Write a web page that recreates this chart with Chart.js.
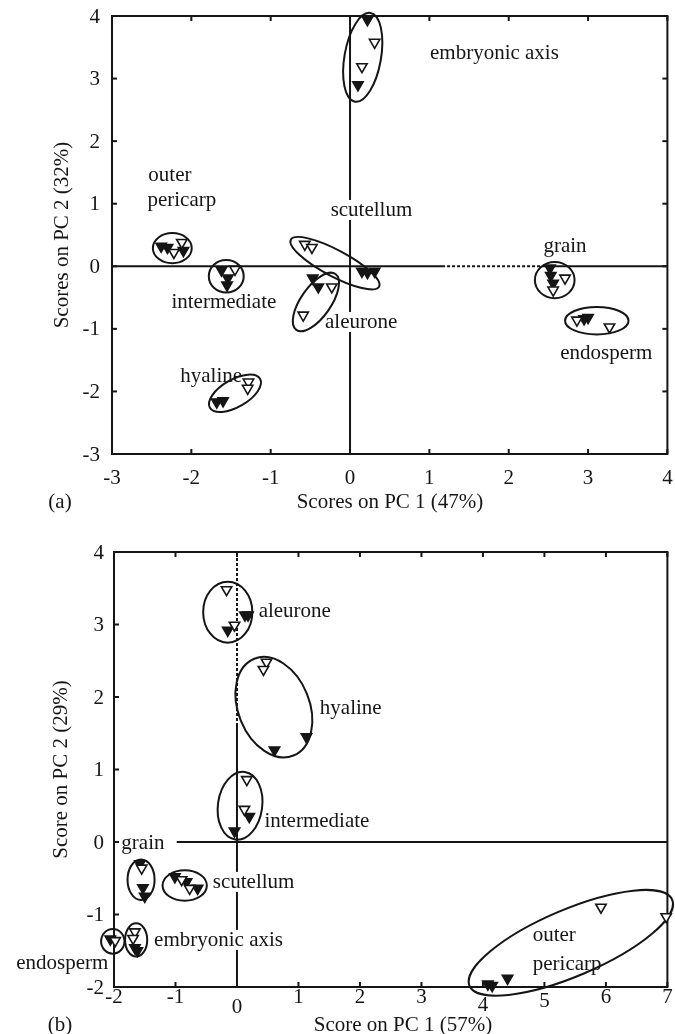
<!DOCTYPE html>
<html><head><meta charset="utf-8">
<script src="https://cdn.jsdelivr.net/npm/chart.js@4/dist/chart.umd.min.js"></script>
<style>
html,body{margin:0;padding:0;background:#fff;}
#wrap{position:relative;width:675px;height:1034px;overflow:hidden;}
#ca{position:absolute;left:0;top:0;}
#cb{position:absolute;left:0;top:530px;}
</style></head><body>
<div id="wrap"><canvas id="ca" width="675" height="530"></canvas><canvas id="cb" width="675" height="504"></canvas></div>
<script>
const FONT = "'Liberation Serif','Times New Roman',serif";
const INK = '#151515';

// ---------- Panel (a) ----------
const aXTicks = [-3, -2, -1, 0, 1, 2, 3, 4];
const aYTicks = [-3, -2, -1, 0, 1, 2, 3, 4];
const aXTitle = 'Scores on PC 1 (47%)';
const aYTitle = 'Scores on PC 2 (32%)';
const aTag = '(a)';
const aOpen = [
  [-2.12, 0.38], [-2.22, 0.22],          // outer pericarp
  [-1.45, -0.05],                        // intermediate
  [-0.57, 0.35], [-0.48, 0.30],          // scutellum
  [-0.23, -0.33], [-0.59, -0.78],        // aleurone
  [0.31, 3.58], [0.15, 3.19],            // embryonic axis
  [2.56, -0.38], [2.71, -0.19],          // grain
  [2.86, -0.86], [3.27, -0.97],          // endosperm
  [-1.28, -1.85], [-1.29, -1.95]         // hyaline
];
const aFilled = [
  [-2.38, 0.32], [-2.30, 0.30], [-2.10, 0.25],
  [-1.62, -0.06], [-1.54, -0.19], [-1.55, -0.30],
  [0.15, -0.08], [0.22, -0.10], [0.31, -0.08],
  [-0.47, -0.19], [-0.40, -0.33],
  [0.22, 3.94], [0.10, 2.90],
  [2.52, -0.03], [2.53, -0.15], [2.56, -0.27],
  [2.95, -0.84], [3.00, -0.82],
  [-1.68, -2.17], [-1.60, -2.15]
];
// cluster ellipses: centre x, centre y, half-width (x units), half-height (y units), tilt (deg)
const aEllipses = [
  [0.16, 3.34, 0.23, 0.72, 10],
  [-2.24, 0.29, 0.245, 0.24, 0],
  [-1.56, -0.16, 0.22, 0.26, 0],
  [-0.19, 0.05, 0.63, 0.21, 28],
  [-0.43, -0.57, 0.43, 0.24, -55],
  [-1.45, -2.03, 0.365, 0.22, -30],
  [2.58, -0.22, 0.25, 0.29, 0],
  [3.11, -0.87, 0.40, 0.22, 0]
];
const aLabelText = ['embryonic axis', 'outer', 'pericarp', 'scutellum', 'grain', 'intermediate', 'aleurone', 'endosperm', 'hyaline'];
const aLabelX = [1.82, -2.27, -2.12, 0.27, 2.71, -1.59, 0.14, 3.23, -1.75];
const aLabelY = [3.42, 1.46, 1.06, 0.90, 0.34, -0.57, -0.89, -1.37, -1.75];

// ---------- Panel (b) ----------
const bXTicks = [-2, -1, 0, 1, 2, 3, 4, 5, 6, 7];
const bYTicks = [-2, -1, 0, 1, 2, 3, 4];
const bXTitle = 'Score on PC 1 (57%)';
const bYTitle = 'Score on PC 2 (29%)';
const bTag = '(b)';
const bOpen = [
  [-0.17, 3.48], [-0.04, 2.99],
  [0.48, 2.48], [0.43, 2.38],
  [0.16, 0.86], [0.12, 0.45],
  [-1.55, -0.36],
  [-0.90, -0.52], [-0.77, -0.64],
  [-1.66, -1.24], [-1.69, -1.33],
  [-1.98, -1.36],
  [5.92, -0.90], [6.98, -1.03]
];
const bFilled = [
  [-0.15, 2.92], [0.13, 3.13], [0.18, 3.13],
  [0.61, 1.27], [1.13, 1.45],
  [0.20, 0.35], [-0.04, 0.15],
  [-1.58, -0.30], [-1.53, -0.63], [-1.50, -0.75],
  [-1.01, -0.48], [-0.82, -0.55], [-0.64, -0.64],
  [-1.66, -1.46], [-1.62, -1.50],
  [-2.06, -1.34],
  [4.40, -1.88], [4.15, -1.98], [4.08, -1.96]
];
const bEllipses = [
  [-0.15, 3.17, 0.40, 0.42, 0],
  [0.60, 1.86, 0.58, 0.72, -22],
  [0.05, 0.50, 0.36, 0.47, 8],
  [-1.56, -0.52, 0.22, 0.28, 0],
  [-0.85, -0.60, 0.36, 0.21, 0],
  [-1.64, -1.35, 0.18, 0.23, 0],
  [-2.02, -1.37, 0.19, 0.17, 0],
  [5.43, -1.39, 1.79, 0.46, -23]
];
const bLabelText = ['aleurone', 'hyaline', 'intermediate', 'grain', 'scutellum', 'embryonic axis', 'endosperm', 'outer', 'pericarp'];
const bLabelX = [0.94, 1.85, 1.30, -1.53, 0.27, -0.30, -2.84, 5.16, 5.37];
const bLabelY = [3.20, 1.86, 0.30, -0.01, -0.55, -1.35, -1.66, -1.28, -1.67];

function toPts(arr){ return arr.map(p => ({x: p[0], y: p[1]})); }

function seg(ctx, x1, y1, x2, y2, dash){
  ctx.save();
  ctx.setLineDash(dash || []);
  ctx.beginPath(); ctx.moveTo(x1, y1); ctx.lineTo(x2, y2); ctx.stroke();
  ctx.restore();
}

function makePlugin(cfg){
  return {
    id: 'deco_' + cfg.name,
    beforeDatasetsDraw(chart){
      const ctx = chart.ctx, xs = chart.scales.x, ys = chart.scales.y, a = chart.chartArea;
      const X = v => xs.getPixelForValue(v), Y = v => ys.getPixelForValue(v);
      ctx.save();
      ctx.strokeStyle = INK; ctx.lineWidth = 2; ctx.lineCap = 'butt';
      // zero lines
      cfg.zeroH.forEach(s => seg(ctx, X(s[0]), Y(0), X(s[1]), Y(0), s[2] ? [3, 2] : null));
      cfg.zeroV.forEach(s => seg(ctx, X(0), Y(s[0]), X(0), Y(s[1]), s[2] ? [3, 2] : null));
      // frame
      ctx.strokeRect(a.left, a.top, a.right - a.left, a.bottom - a.top);
      // inward tick marks
      const T = 5;
      cfg.xTicks.forEach(v => {
        const x = X(v);
        seg(ctx, x, a.bottom, x, a.bottom - T);
        if (cfg.topTicks) seg(ctx, x, a.top, x, a.top + T);
      });
      cfg.yTicks.forEach(v => {
        const y = Y(v);
        seg(ctx, a.left, y, a.left + T, y);
        if (cfg.rightTicks) seg(ctx, a.right, y, a.right - T, y);
      });
      // cluster labels (white backing hides lines behind them)
      ctx.font = '21px ' + FONT;
      ctx.textAlign = 'center'; ctx.textBaseline = 'middle';
      cfg.labelText.forEach((t, i) => {
        const x = X(cfg.labelX[i]), y = Y(cfg.labelY[i]);
        const w = ctx.measureText(t).width;
        ctx.fillStyle = '#fff';
        ctx.fillRect(x - w / 2 - 2, y - 10, w + 4, 20);
        ctx.fillStyle = INK;
        ctx.fillText(t, x, y + 1);
      });
      // ellipses
      const ux = Math.abs(X(1) - X(0)), uy = Math.abs(Y(1) - Y(0));
      ctx.lineWidth = 2;
      cfg.ellipses.forEach(e => {
        ctx.beginPath();
        ctx.ellipse(X(e[0]), Y(e[1]), e[2] * ux, e[3] * uy, e[4] * Math.PI / 180, 0, Math.PI * 2);
        ctx.stroke();
      });
      ctx.restore();
    },
    afterDraw(chart){
      const ctx = chart.ctx, xs = chart.scales.x, ys = chart.scales.y, a = chart.chartArea;
      const X = v => xs.getPixelForValue(v), Y = v => ys.getPixelForValue(v);
      ctx.save();
      ctx.fillStyle = INK;
      ctx.font = '21px ' + FONT;
      ctx.textBaseline = 'middle';
      ctx.textAlign = 'center';
      cfg.xTicks.forEach(v => {
        const dy = (cfg.xTickDrop && cfg.xTickDrop[v]) || 0;
        ctx.fillText(v < 0 ? '-' + Math.abs(v) : String(v), X(v), a.bottom + cfg.xTickGap + dy);
      });
      ctx.textAlign = 'right';
      cfg.yTicks.forEach(v => {
        ctx.fillText(v < 0 ? '-' + Math.abs(v) : String(v), a.left - cfg.yTickGap, Y(v) + 1);
      });
      ctx.textAlign = 'center';
      ctx.fillText(cfg.xTitle, cfg.xTitleX, cfg.titleY);
      ctx.fillText(cfg.tag, 60, cfg.titleY);
      ctx.translate(cfg.yTitleX, (a.top + a.bottom) / 2);
      ctx.rotate(-Math.PI / 2);
      ctx.fillText(cfg.yTitle, 0, 0);
      ctx.restore();
    }
  };
}

function pointSets(open, filled){
  return [
    { data: toPts(open), pointStyle: 'triangle', rotation: 180, pointRadius: 6,
      backgroundColor: '#fff', borderColor: INK, borderWidth: 1.6, clip: false, showLine: false },
    { data: toPts(filled), pointStyle: 'triangle', rotation: 180, pointRadius: 6,
      backgroundColor: INK, borderColor: INK, borderWidth: 1.6, clip: false, showLine: false }
  ];
}

function baseOptions(pad, xmin, xmax, ymin, ymax){
  return {
    responsive: false, animation: false, events: [],
    layout: { padding: pad },
    plugins: { legend: { display: false }, tooltip: { enabled: false } },
    scales: {
      x: { type: 'linear', min: xmin, max: xmax, display: false },
      y: { type: 'linear', min: ymin, max: ymax, display: false }
    }
  };
}

new Chart(document.getElementById('ca'), {
  type: 'scatter',
  data: { datasets: pointSets(aOpen, aFilled) },
  options: baseOptions({ left: 112, right: 7, top: 16, bottom: 76 }, -3, 4, -3, 4),
  plugins: [makePlugin({
    name: 'a', xTicks: aXTicks, yTicks: aYTicks, topTicks: true, rightTicks: true,
    zeroH: [[-3, 1.16, false], [1.16, 2.5, true], [2.5, 4, false]],
    zeroV: [[-3, 4, false]],
    ellipses: aEllipses, labelText: aLabelText, labelX: aLabelX, labelY: aLabelY,
    xTickGap: 24, yTickGap: 12, xTitle: aXTitle, xTitleX: 390, titleY: 502,
    tag: aTag, yTitle: aYTitle, yTitleX: 62
  })]
});

new Chart(document.getElementById('cb'), {
  type: 'scatter',
  data: { datasets: pointSets(bOpen, bFilled) },
  options: baseOptions({ left: 114, right: 7, top: 22, bottom: 47 }, -2, 7, -2, 4),
  plugins: [makePlugin({
    name: 'b', xTicks: bXTicks, yTicks: bYTicks, topTicks: true, rightTicks: false,
    zeroH: [[-0.98, 7, false]],
    zeroV: [[1.6, 4, true], [-2, 1.6, false]],
    ellipses: bEllipses, labelText: bLabelText, labelX: bLabelX, labelY: bLabelY,
    xTickGap: 10, xTickDrop: { 0: 10, 4: 8, 5: 4 }, yTickGap: 10,
    xTitle: bXTitle, xTitleX: 403, titleY: 495,
    tag: bTag, yTitle: bYTitle, yTitleX: 61
  })]
});
</script>
</body></html>
